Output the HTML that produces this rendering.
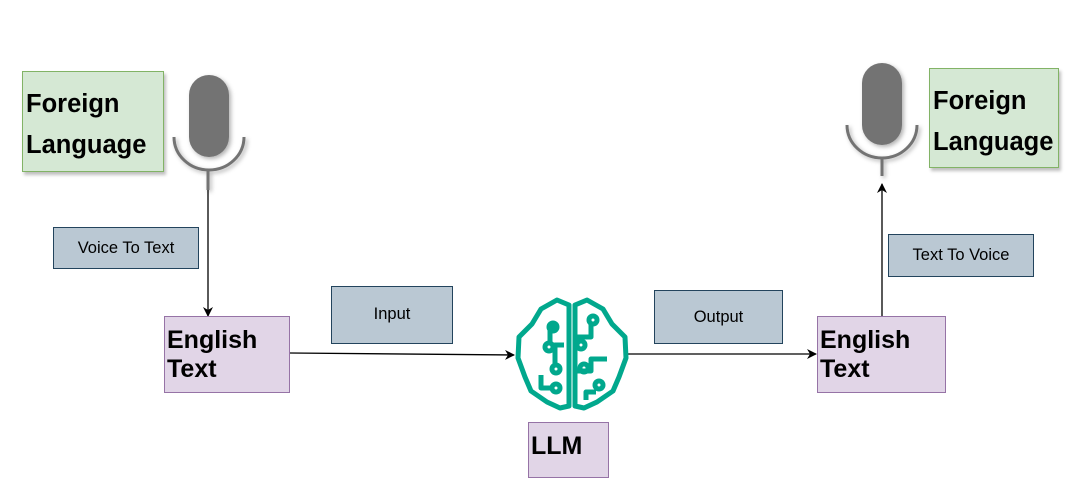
<!DOCTYPE html>
<html><head><style>
body{margin:0;background:#fff;}
.b{position:absolute;box-sizing:border-box;font-family:"Liberation Sans",sans-serif;}
.g{background:#d5e8d4;border:1px solid #82b366;box-shadow:2px 3px 3px rgba(0,0,0,.25);font-weight:bold;font-size:25.5px;line-height:41px;padding:12px 0 0 3px;}
.p{background:#e1d5e7;border:1px solid #9673a6;font-weight:bold;font-size:25px;line-height:29px;padding:9px 0 0 2px;}
.s{background:#bac8d3;border:1px solid #23445d;font-size:16.5px;display:flex;align-items:center;justify-content:center;}
</style></head><body>
<div style="position:relative;width:1089px;height:503px;overflow:hidden">
<svg width="1089" height="503" style="position:absolute;left:0;top:0">
<defs><marker id="a" markerWidth="10" markerHeight="10" refX="9" refY="5" orient="auto" markerUnits="userSpaceOnUse"><path d="M0,0 L10,5 L0,10 L3,5Z" fill="#000"/></marker>
<filter id="sh"><feDropShadow dx="2" dy="2" stdDeviation="2" flood-opacity="0.3"/></filter></defs>
<g filter="url(#sh)">
<rect x="189" y="75" width="40" height="82" rx="20" fill="#737373"/>
<path d="M174,137 A35,33 0 0 0 244,137" fill="none" stroke="#737373" stroke-width="3"/>
<line x1="208" y1="170" x2="208" y2="190" stroke="#737373" stroke-width="3"/>
<rect x="862" y="63" width="40" height="82" rx="20" fill="#737373"/>
<path d="M847,125 A35,33 0 0 0 917,125" fill="none" stroke="#737373" stroke-width="3"/>
<line x1="882" y1="158" x2="882" y2="176" stroke="#737373" stroke-width="3"/>
</g>
<line x1="208" y1="190" x2="208" y2="316" stroke="#000" stroke-width="1.3" marker-end="url(#a)"/>
<line x1="882" y1="316" x2="882" y2="184" stroke="#000" stroke-width="1.3" marker-end="url(#a)"/>
<line x1="290" y1="353" x2="514" y2="355" stroke="#000" stroke-width="1.3" marker-end="url(#a)"/>
<line x1="628" y1="354" x2="816" y2="354" stroke="#000" stroke-width="1.3" marker-end="url(#a)"/>
<g fill="none" stroke="#01a88d" stroke-width="5" stroke-linejoin="round">
<path d="M569,305 L557,300 L541,309 L532,324 L519,337 L518,358 L525,377 L531,391 L547,402 L560,408 L569,406 Z"/>
<path d="M575,305 L587,300 L603,309 L612,324 L625,337 L626,358 L619,377 L613,391 L597,402 L584,408 L575,406 Z"/>
<path d="M550,345 L550,327 L558,327 M555,365 L555,345 L564,345 M541,375 L541,388 L554,388 M575,337 L591,337 L591,322 M575,371 L591,371 L591,359 L607,359 M596,392 L586,392 L586,400"/>
<circle cx="553" cy="327" r="4"/><circle cx="549" cy="347" r="4"/><circle cx="556" cy="369" r="4"/><circle cx="556" cy="388" r="4"/>
<circle cx="593" cy="320" r="4"/><circle cx="581" cy="345" r="4"/><circle cx="584" cy="368" r="4"/><circle cx="599" cy="385" r="4"/>
</g>
</svg>
<div class="b g" style="left:22px;top:71px;width:142px;height:101px">Foreign<br>Language</div>
<div class="b g" style="left:929px;top:68px;width:130px;height:100px;padding-top:12px">Foreign<br>Language</div>
<div class="b s" style="left:53px;top:227px;width:146px;height:42px">Voice To Text</div>
<div class="b s" style="left:888px;top:234px;width:146px;height:43px">Text To Voice</div>
<div class="b s" style="left:331px;top:286px;width:122px;height:58px;align-items:flex-start;padding-top:18px">Input</div>
<div class="b s" style="left:654px;top:290px;width:129px;height:54px;align-items:flex-start;padding-top:17px">Output</div>
<div class="b p" style="left:164px;top:316px;width:126px;height:77px">English<br>Text</div>
<div class="b p" style="left:817px;top:316px;width:129px;height:77px">English<br>Text</div>
<div class="b p" style="left:528px;top:422px;width:81px;height:56px;padding-top:9px">LLM</div>
</div>
</body></html>
